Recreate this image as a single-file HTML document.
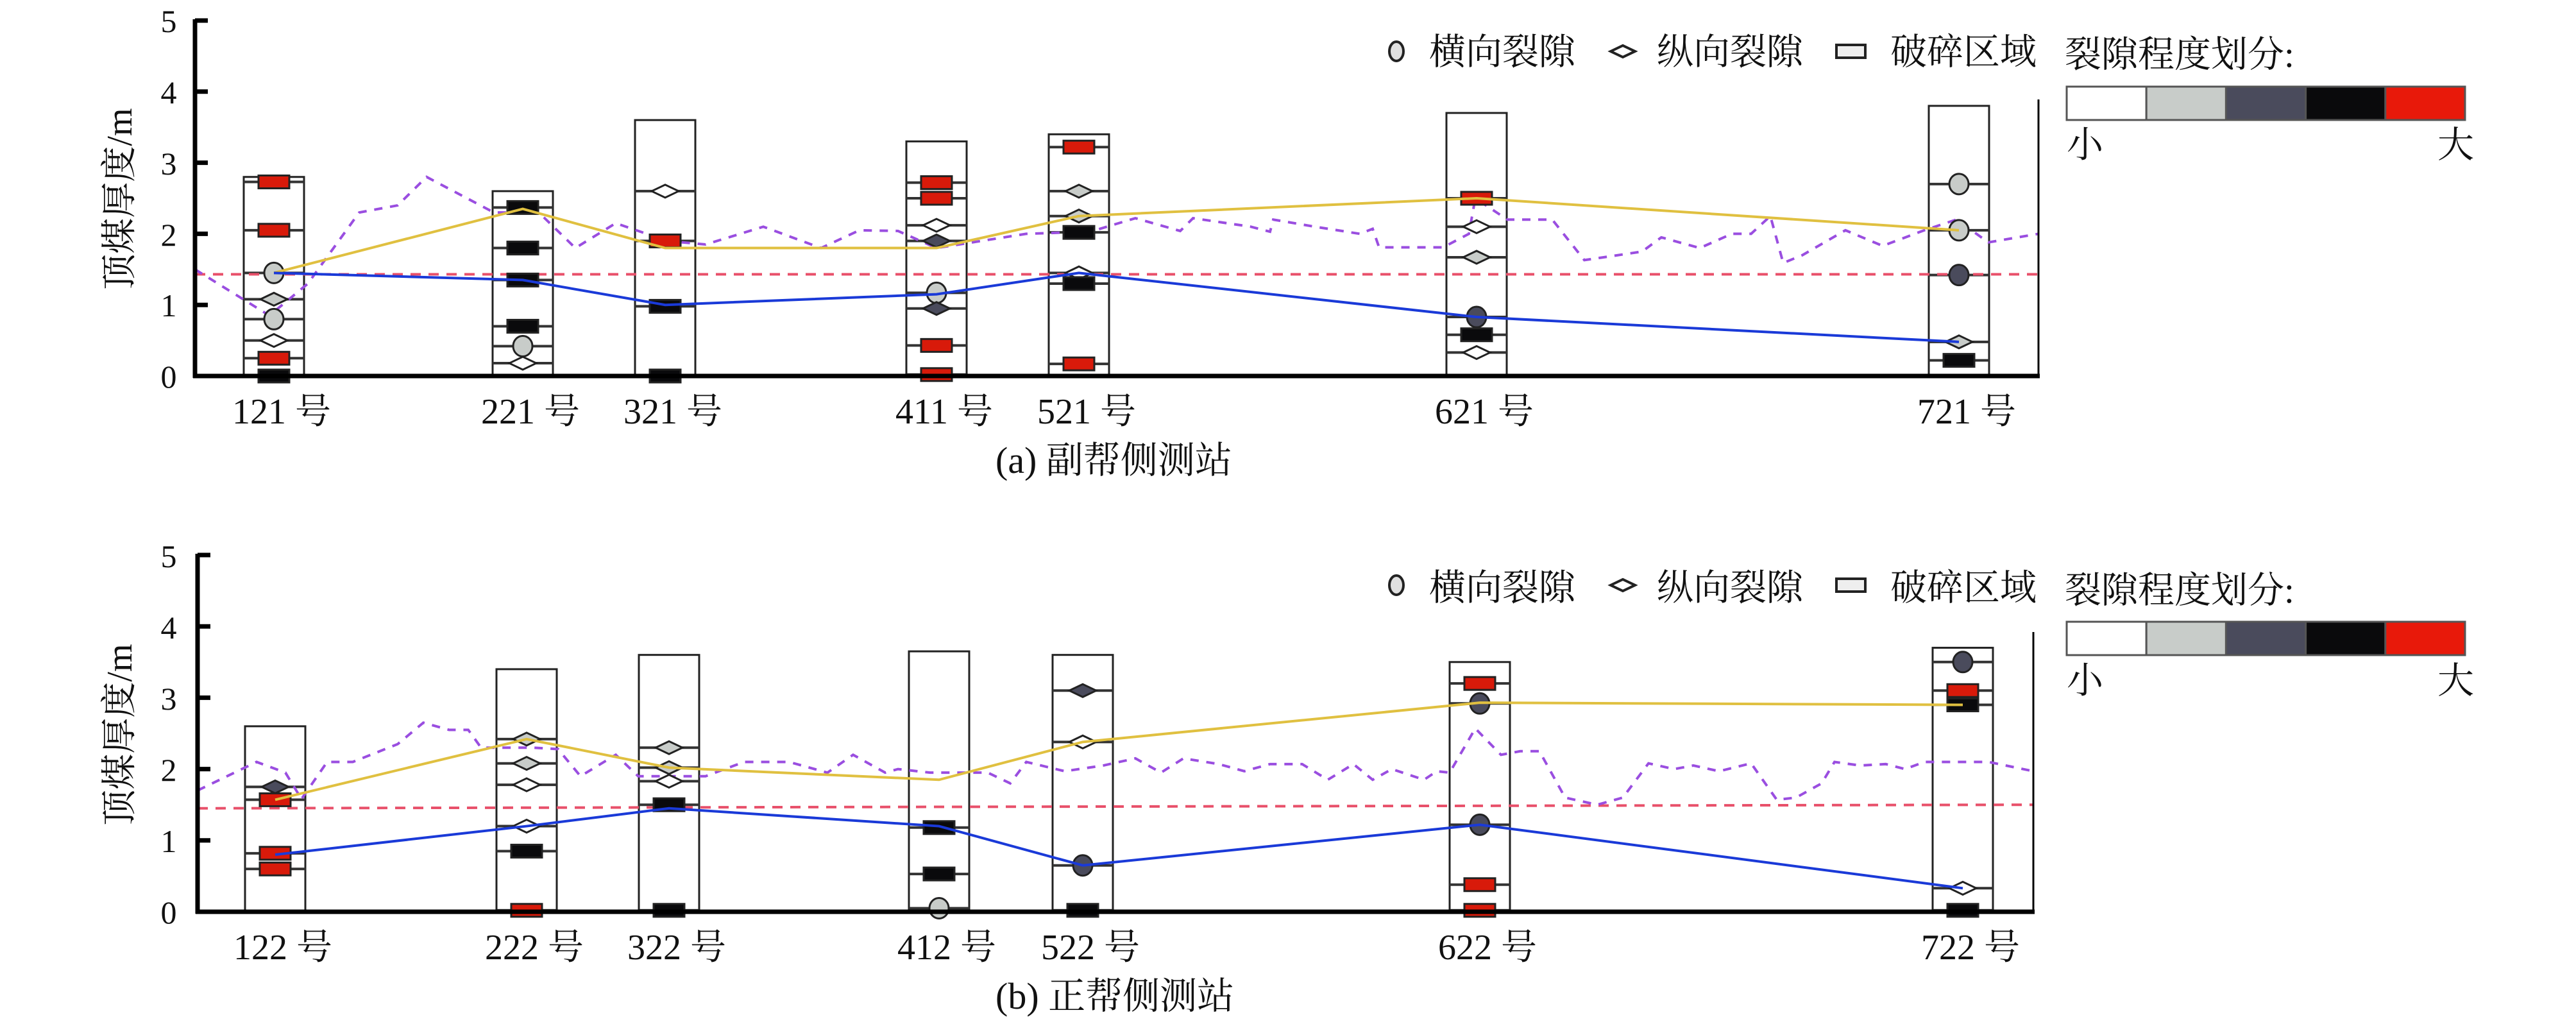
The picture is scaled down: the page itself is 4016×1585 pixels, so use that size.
<!DOCTYPE html>
<html><head><meta charset="utf-8">
<style>
html,body{margin:0;padding:0;background:#fff;}
svg{display:block;}
text{font-family:"Liberation Serif","Noto Serif CJK SC",serif;fill:#111;}
</style></head>
<body>
<svg id="s" width="4016" height="1585" viewBox="0 0 4016 1585" xmlns="http://www.w3.org/2000/svg">
<g id="g"></g>
<!-- top panel text -->
<g font-size="50" text-anchor="middle">
<text x="263" y="50">5</text><text x="263" y="161">4</text><text x="263" y="272">3</text><text x="263" y="383">2</text><text x="263" y="493">1</text><text x="263" y="604">0</text>
<text x="263" y="884">5</text><text x="263" y="995">4</text><text x="263" y="1106">3</text><text x="263" y="1217">2</text><text x="263" y="1328">1</text><text x="263" y="1439">0</text>
</g>
<g font-size="56" text-anchor="middle">
<text x="439" y="660">121 号</text><text x="827" y="660">221 号</text><text x="1049" y="660">321 号</text><text x="1472" y="660">411 号</text><text x="1694" y="660">521 号</text><text x="2314" y="660">621 号</text><text x="3066" y="660">721 号</text>
<text x="441" y="1495">122 号</text><text x="833" y="1495">222 号</text><text x="1055" y="1495">322 号</text><text x="1476" y="1495">412 号</text><text x="1700" y="1495">522 号</text><text x="2319" y="1495">622 号</text><text x="3072" y="1495">722 号</text>
</g>
<text font-size="56" transform="translate(205,310) rotate(-90)" text-anchor="middle">顶煤厚度/m</text>
<text font-size="56" transform="translate(205,1145) rotate(-90)" text-anchor="middle">顶煤厚度/m</text>
<text font-size="58" x="1552" y="737">(a) 副帮侧测站</text>
<text font-size="58" x="1552" y="1572">(b) 正帮侧测站</text>
<g font-size="57">
<text x="2228" y="100">横向裂隙</text><text x="2583" y="100">纵向裂隙</text><text x="2947" y="100">破碎区域</text><text x="3219" y="104">裂隙程度划分:</text>
<text x="3222" y="245">小</text><text x="3800" y="245">大</text>
<text x="2228" y="935">横向裂隙</text><text x="2583" y="935">纵向裂隙</text><text x="2947" y="935">破碎区域</text><text x="3219" y="939">裂隙程度划分:</text>
<text x="3222" y="1080">小</text><text x="3800" y="1080">大</text>
</g>
</svg>
<script>
(function(){
var NS="http://www.w3.org/2000/svg",g=document.getElementById('g');
function el(t,a){var e=document.createElementNS(NS,t);for(var k in a)e.setAttribute(k,a[k]);g.appendChild(e);return e;}
var C={w:'#ffffff',l:'#c8ccc9',d:'#4a4b5c',k:'#0a0a0c',r:'#d81a0a'};
function panel(P){
 var y0=P.y0,u=P.u,ax=P.ax,rx=P.rx;
 function Y(v){return y0-v*u;}
 // bars
 P.st.forEach(function(s){
  el('rect',{x:s.x-47,y:Y(s.top),width:94,height:s.top*u,fill:'#fff',stroke:'#222','stroke-width':3});
 });
 // marker lines
 P.st.forEach(function(s){
  s.m.forEach(function(m){var y=Y(m[1]);el('line',{x1:s.x-47,x2:s.x+47,y1:y,y2:y,stroke:'#333','stroke-width':4});});
 });
 // red dashed
 el('line',{x1:ax,x2:rx,y1:Y(P.rd[0]),y2:Y(P.rd[1]),stroke:'#e8506a','stroke-width':4,'stroke-dasharray':'16 12'});
 // purple
 el('polyline',{points:P.pu.map(function(p){return p[0]+','+Y(p[1]);}).join(' '),fill:'none',stroke:'#9a4ee0','stroke-width':4,'stroke-dasharray':'13 12'});
 // markers
 P.st.forEach(function(s){
  s.m.forEach(function(m){var y=Y(m[1]),t=m[0],c=C[m[2]];
   if(t=='r')el('rect',{x:s.x-24,y:y-10,width:48,height:20,fill:c,stroke:'#222','stroke-width':3});
   else if(t=='e')el('ellipse',{cx:s.x,cy:y,rx:15,ry:16,fill:c,stroke:'#222','stroke-width':3});
   else el('polygon',{points:(s.x-21)+','+y+' '+s.x+','+(y-10)+' '+(s.x+21)+','+y+' '+s.x+','+(y+10),fill:c,stroke:'#222','stroke-width':3});
  });
 });
 // yellow & blue
 el('polyline',{points:P.st.map(function(s,i){return s.x+','+Y(P.ye[i]);}).join(' '),fill:'none',stroke:'#e0c040','stroke-width':4});
 el('polyline',{points:P.st.map(function(s,i){return s.x+','+Y(P.bl[i]);}).join(' '),fill:'none',stroke:'#1a3ad8','stroke-width':4});
 // axes
 el('line',{x1:ax,x2:ax,y1:Y(5)-2,y2:y0+3,stroke:'#000','stroke-width':7});
 el('line',{x1:ax-3,x2:rx+2,y1:y0,y2:y0,stroke:'#000','stroke-width':7});
 el('line',{x1:rx,x2:rx,y1:P.rt,y2:y0,stroke:'#000','stroke-width':3});
 for(var i=1;i<=5;i++)el('line',{x1:ax,x2:ax+20,y1:Y(i),y2:Y(i),stroke:'#000','stroke-width':7});
 // legend
 var ly=P.ly;
 el('ellipse',{cx:2177,cy:ly,rx:11,ry:15,fill:'#e0e0e0',stroke:'#222','stroke-width':4});
 el('polygon',{points:'2511,'+ly+' 2530,'+(ly-9)+' 2549,'+ly+' 2530,'+(ly+9),fill:'#fff',stroke:'#222','stroke-width':4});
 el('rect',{x:2863,y:ly-10,width:45,height:20,fill:'#eee',stroke:'#222','stroke-width':4});
 var cx=3222,cw=124.2,cols=['#ffffff','#c8ccc9','#4a4b5c','#0a0a0c','#e8190a'];
 cols.forEach(function(c,i){el('rect',{x:cx+i*cw,y:P.cb,width:cw,height:52,fill:c,stroke:'#555','stroke-width':3});});
}
function st(xs,tops,ms){return xs.map(function(x,i){return {x:x,top:tops[i],m:ms[i]};});}
panel({y0:586,u:110.8,ax:304,rx:3178,rt:155,ly:80,cb:135,rd:[1.43,1.43],
 st:st([427,815,1037,1460,1682,2302,3054],[2.8,2.6,3.6,3.3,3.4,3.7,3.8],[
  [['r',2.73,'r'],['r',2.05,'r'],['e',1.45,'l'],['d',1.08,'l'],['e',0.8,'l'],['d',0.5,'w'],['r',0.25,'r'],['r',0.0,'k']],
  [['r',2.37,'k'],['r',1.8,'k'],['r',1.35,'k'],['r',0.7,'k'],['e',0.42,'l'],['d',0.18,'w']],
  [['d',2.6,'w'],['r',1.9,'r'],['r',0.98,'k'],['r',0.0,'k']],
  [['r',2.72,'r'],['r',2.5,'r'],['d',2.12,'w'],['d',1.9,'d'],['e',1.17,'l'],['d',0.95,'d'],['r',0.43,'r'],['r',0.02,'r']],
  [['r',3.22,'r'],['d',2.6,'l'],['d',2.25,'l'],['r',2.02,'k'],['d',1.45,'w'],['r',1.3,'k'],['r',0.17,'r']],
  [['r',2.5,'r'],['d',2.1,'w'],['d',1.67,'l'],['e',0.83,'d'],['r',0.58,'k'],['d',0.33,'w']],
  [['e',2.7,'l'],['e',2.05,'l'],['e',1.42,'d'],['d',0.48,'l'],['r',0.22,'k']]]),
 ye:[1.45,2.35,1.8,1.8,2.25,2.5,2.05],bl:[1.45,1.35,1.0,1.15,1.45,0.83,0.48],
 pu:[[304,1.5],[420,0.85],[480,1.3],[560,2.3],[620,2.4],[665,2.8],[770,2.3],[840,2.3],[897,1.8],[960,2.15],[1040,1.9],[1100,1.85],[1190,2.1],[1280,1.8],[1340,2.05],[1400,2.04],[1460,1.8],[1600,2.0],[1700,2.03],[1770,2.22],[1840,2.04],[1860,2.22],[1950,2.1],[1980,2.03],[1985,2.2],[2050,2.1],[2120,2.0],[2140,2.07],[2150,1.81],[2250,1.81],[2290,2.0],[2300,2.5],[2350,2.2],[2420,2.2],[2470,1.63],[2560,1.75],[2590,1.95],[2650,1.8],[2700,2.0],[2730,2.0],[2760,2.25],[2780,1.59],[2810,1.7],[2877,2.05],[2935,1.83],[3000,2.05],[3050,2.2],[3100,1.88],[3178,2.0]]
});
panel({y0:1421,u:111.2,ax:308,rx:3170,rt:985,ly:912,cb:969,rd:[1.45,1.5],
 st:st([429,821,1043,1464,1688,2307,3060],[2.6,3.4,3.6,3.65,3.6,3.5,3.7],[
  [['d',1.75,'d'],['r',1.57,'r'],['r',0.82,'r'],['r',0.6,'r']],
  [['d',2.42,'l'],['d',2.08,'l'],['d',1.78,'w'],['d',1.2,'w'],['r',0.85,'k'],['r',0.02,'r']],
  [['d',2.3,'l'],['d',2.02,'l'],['d',1.83,'w'],['r',1.5,'k'],['r',0.02,'k']],
  [['r',1.18,'k'],['r',0.53,'k'],['e',0.05,'l']],
  [['d',3.1,'d'],['d',2.38,'w'],['e',0.65,'d'],['r',0.02,'k']],
  [['r',3.2,'r'],['e',2.92,'d'],['e',1.22,'d'],['r',0.38,'r'],['r',0.02,'r']],
  [['e',3.5,'d'],['r',3.1,'r'],['r',2.9,'k'],['d',0.33,'w'],['r',0.02,'k']]]),
 ye:[1.57,2.42,2.02,1.85,2.38,2.93,2.9],bl:[0.8,1.2,1.45,1.2,0.65,1.22,0.33],
 pu:[[308,1.7],[400,2.1],[445,1.95],[470,1.58],[510,2.1],[550,2.1],[620,2.35],[660,2.65],[700,2.55],[730,2.55],[750,2.3],[830,2.3],[870,2.28],[905,1.9],[960,2.2],[995,1.9],[1030,1.9],[1100,1.9],[1160,2.1],[1230,2.1],[1290,1.95],[1330,2.2],[1380,1.95],[1400,2.0],[1450,1.95],[1540,1.95],[1575,1.8],[1600,2.1],[1660,1.97],[1720,2.05],[1770,2.15],[1810,1.95],[1845,2.15],[1900,2.07],[1940,1.97],[1980,2.07],[2030,2.07],[2070,1.85],[2110,2.07],[2140,1.85],[2170,2.0],[2220,1.85],[2240,1.97],[2260,1.95],[2300,2.57],[2340,2.2],[2370,2.25],[2400,2.25],[2440,1.6],[2490,1.5],[2530,1.6],[2570,2.08],[2610,2.0],[2640,2.05],[2680,1.97],[2730,2.08],[2770,1.57],[2800,1.6],[2840,1.8],[2860,2.1],[2900,2.05],[2940,2.07],[2970,2.0],[3000,2.1],[3100,2.1],[3170,1.97]]
});
})();
</script>
</body></html>
